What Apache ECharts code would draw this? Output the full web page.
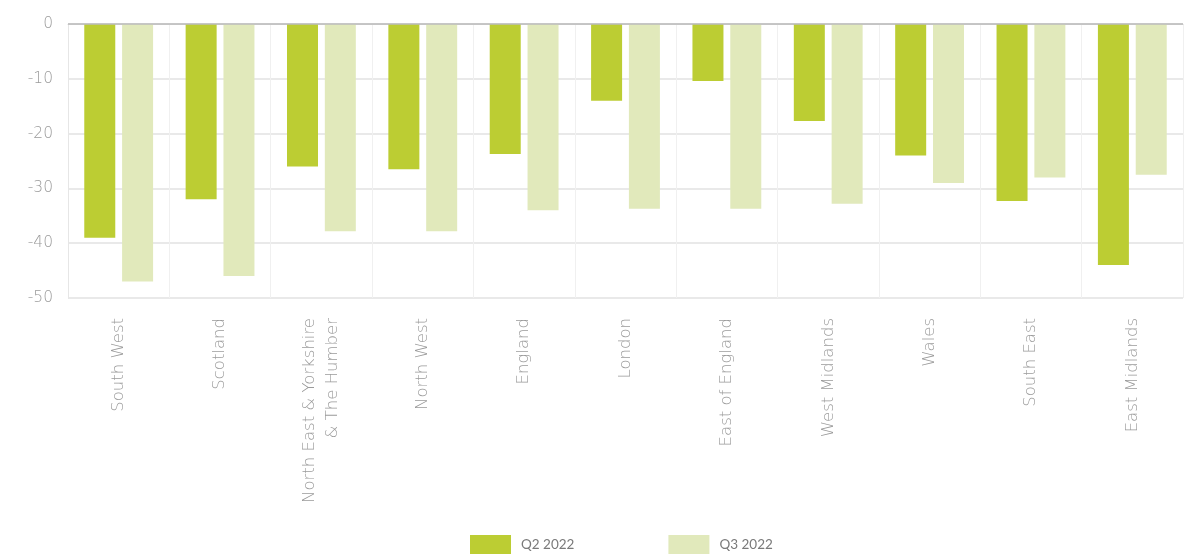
<!DOCTYPE html>
<html><head><meta charset="utf-8">
<script src="https://cdn.jsdelivr.net/npm/echarts@6/dist/echarts.min.js"></script>
<style>html,body{margin:0;padding:0;background:#fff}#c{width:1204px;height:554px}</style>
</head><body><div id="c"></div>
<script>
const categories = ["South West","Scotland","North East & Yorkshire\n& The Humber","North West","England","London","East of England","West Midlands","Wales","South East","East Midlands"];
const q2_2022 = [-39, -32, -26, -26.5, -23.7, -14, -10.4, -17.7, -24, -32.3, -44];
const q3_2022 = [-47, -46, -37.8, -37.8, -34, -33.7, -33.7, -32.8, -29, -28, -27.5];
const seriesNames = ["Q2 2022", "Q3 2022"];
const yTicks = { min: -50, max: 0, interval: 10 };

const chart = echarts.init(document.getElementById('c'));
chart.setOption({
  animation: false,
  textStyle: { fontFamily: 'Lato, sans-serif' },
  grid: { left: 68, right: 21, top: 24, bottom: 256 },
  legend: {
    top: 530, left: 465, itemWidth: 41, itemHeight: 20, itemGap: 94, icon: 'rect',
    textStyle: { color: '#7a7a7a', fontSize: 13.5, padding: [0, 0, 0, 5] },
    data: seriesNames
  },
  xAxis: {
    type: 'category', data: categories, position: 'bottom',
    axisLine: { show: true, lineStyle: { color: '#ddd' } },
    axisTick: { show: false },
    splitLine: { show: true, lineStyle: { color: '#f0f0f0' } },
    axisLabel: { rotate: 90, color: '#9a9a9a', fontFamily: 'DejaVu Sans', fontWeight: 200, fontSize: 16.5, margin: 20, lineHeight: 23 }
  },
  yAxis: {
    type: 'value', min: yTicks.min, max: yTicks.max, interval: yTicks.interval,
    axisLine: { show: true, lineStyle: { color: '#e6e6e6' } },
    axisTick: { show: false },
    axisLabel: { color: '#9a9a9a', fontFamily: 'DejaVu Sans', fontWeight: 200, fontSize: 15.5, margin: 15 },
    splitLine: { lineStyle: { color: '#e2e2e2', width: 1.5 } }
  },
  series: [
    { name: seriesNames[0], type: 'bar', data: q2_2022, barWidth: 31, barGap: '22%',
      itemStyle: { color: '#bccd33' },
      markLine: { silent: true, symbol: 'none', label: { show: false }, lineStyle: { color: '#bbb', type: 'solid', width: 1.5 }, data: [{ yAxis: 0 }] } },
    { name: seriesNames[1], type: 'bar', data: q3_2022, barWidth: 31,
      itemStyle: { color: '#e1e9bb' } }
  ]
});
</script></body></html>
